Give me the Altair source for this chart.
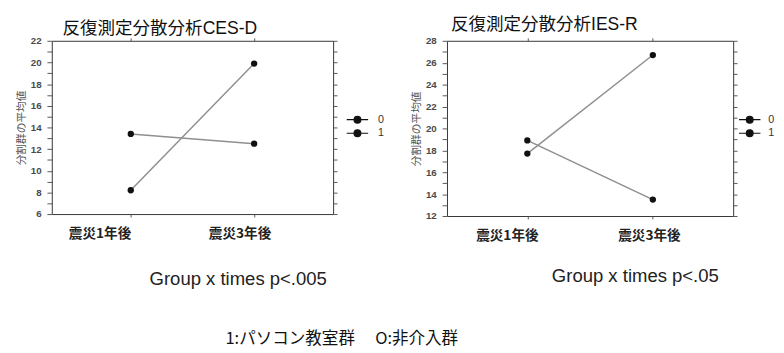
import altair as alt
import pandas as pd

# ---- data ----
times = ["震災1年後", "震災3年後"]
groups = ["0", "1"]
cesd_g0 = [8.2, 19.9]
cesd_g1 = [13.4, 12.5]
iesr_g0 = [17.7, 26.7]
iesr_g1 = [18.9, 13.5]
panel_titles = ["反復測定分散分析CES-D", "反復測定分散分析IES-R"]
notes = ["Group x times p<.005", "Group x times p<.05"]
y_title = "分割群の平均値"
caption = "1:パソコン教室群　 O:非介入群"


def frame(g0, g1):
    rows = []
    for t, a, b in zip(times, g0, g1):
        rows.append({"time": t, "group": groups[0], "value": a})
        rows.append({"time": t, "group": groups[1], "value": b})
    return pd.DataFrame(rows)


LAT = "Liberation Sans"
JP = "Noto Sans CJK JP"
MIX = "Liberation Sans, Noto Sans CJK JP"
LEGEND_PATH = "M-2.2,0L2.2,0M-0.7,0A0.7,0.7,0,1,1,0.7,0A0.7,0.7,0,1,1,-0.7,0Z"


def panel(df, title, note, lo, hi, w, h, label_offsets, note_x, note_y,
          legend_x, legend_y, legend_label_offset, title_dx, title_dy):
    xs = alt.Scale(type="point", domain=times, padding=0.64)
    ys = alt.Scale(domain=[lo, hi], nice=False, zero=False)
    tick_vals = list(range(lo, hi + 1))

    x_bottom = alt.X(
        "time:N", scale=xs, sort=times,
        axis=alt.Axis(
            orient="bottom", title=note, domain=False, ticks=True, tickSize=3,
            tickColor="#555", labelAngle=0, labelFont=JP, labelFontSize=14,
            labelFontWeight="bold", labelColor="#222", labelPadding=10,
            labelOffset={"condition": {"test": "datum.index < 0.5", "value": label_offsets[0]},
                         "value": label_offsets[1]},
            titleFont=LAT, titleFontSize=19, titleFontWeight="normal", titleColor="#222",
            titleX=note_x, titleY=note_y, titleAlign="center", titleBaseline="middle",
        ),
    )
    x_top = alt.X(
        "time:N", scale=xs, sort=times,
        axis=alt.Axis(orient="top", title=None, labels=False, domain=False,
                      tickSize=3, tickColor="#555"),
    )
    y_left = alt.Y(
        "value:Q", scale=ys,
        axis=alt.Axis(
            orient="left", values=tick_vals, grid=False, domain=False,
            labelExpr="datum.value % 2 == 0 ? datum.label : ''", labelOverlap=False,
            tickSize=5, tickColor="#555", labelFont=LAT, labelFontSize=10,
            labelFontWeight="bold", labelColor="#4a4a4a", labelPadding=6,
            title=y_title, titleFont=JP, titleFontSize=11, titleFontWeight="normal",
            titleColor="#555", titlePadding=4,
        ),
    )
    y_right = alt.Y(
        "value:Q", scale=ys,
        axis=alt.Axis(orient="right", values=tick_vals, grid=False, domain=False,
                      labels=False, tickSize=4, tickColor="#555", title=None),
    )

    base = alt.Chart(df)
    lines = base.mark_line(color="#8f8f8f", strokeWidth=1.5).encode(
        x=x_bottom, y=y_left, detail="group:N"
    )
    points = base.mark_point(filled=True, size=42, opacity=1).encode(
        x=x_top, y=y_right,
        color=alt.Color(
            "group:N",
            scale=alt.Scale(domain=groups, range=["#111111", "#111111"]),
            legend=alt.Legend(
                title=None, orient="none", legendX=legend_x, legendY=legend_y,
                symbolType=LEGEND_PATH, symbolSize=100, symbolStrokeColor="#111111",
                symbolStrokeWidth=1.2, symbolFillColor="#111111",
                labelFont=LAT, labelFontSize=11, labelColor="#333333",
                labelOffset=legend_label_offset, rowPadding=2, padding=0,
            ),
        ),
    )
    return (
        alt.layer(lines, points)
        .properties(
            width=w, height=h,
            title=alt.TitleParams(title, font=MIX, fontSize=18, fontWeight="normal",
                                  color="#111111", anchor="start", frame="group",
                                  dx=title_dx, dy=title_dy, offset=2),
        )
        .resolve_axis(x="independent", y="independent")
    )


left = panel(frame(cesd_g0, cesd_g1), panel_titles[0], notes[0], 6, 22, 289, 178,
             (-32, -15), 191, 66, 308, 75, 15, 11, 4)
right = panel(frame(iesr_g0, iesr_g1), panel_titles[1], notes[1], 12, 28, 294, 180,
              (-21, -4), 193, 61, 305, 75, 13, 4, 0)

chart = (
    alt.hconcat(left, right, spacing=25)
    .resolve_scale(color="independent")
    .properties(
        title=alt.TitleParams(caption, orient="bottom", anchor="start", frame="bounds",
                              dx=216, offset=44, font=JP, fontSize=17,
                              fontWeight="normal", color="#111111"),
        padding={"left": 7, "top": 3, "right": 0, "bottom": 0},
    )
    .configure_view(stroke="#333333", strokeWidth=1)
)

chart.save("out.html", embed_options={"renderer": "svg", "actions": False})
